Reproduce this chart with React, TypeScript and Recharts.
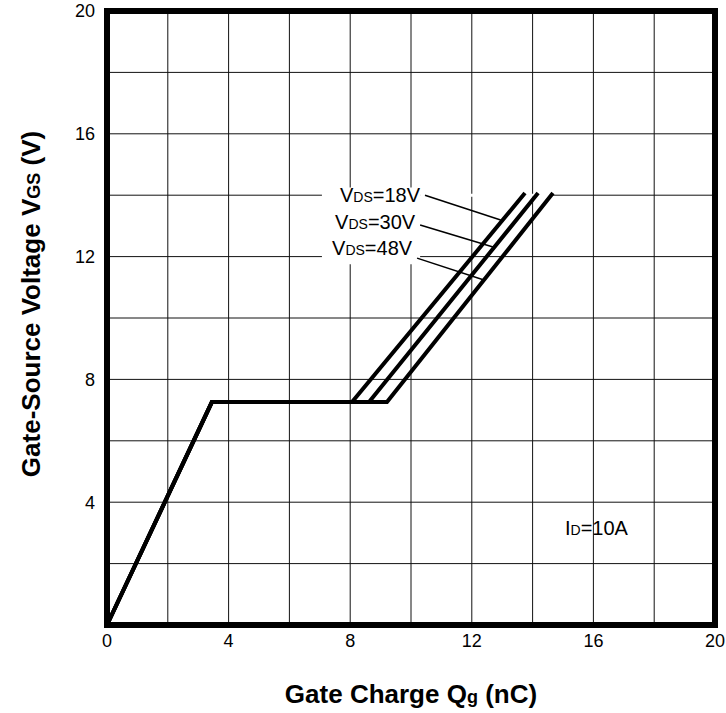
import React from 'react';
import {
  LineChart,
  Line,
  XAxis,
  YAxis,
  CartesianGrid,
  ReferenceArea,
  ReferenceLine,
  ReferenceDot,
  Label,
} from 'recharts';

// gate charge curves, one per drain-source voltage
const QG_18V = [0, 3.45, 8.06, 13.75];
const QG_30V = [0, 3.45, 8.62, 14.18];
const QG_48V = [0, 3.45, 9.21, 14.67];
const VGS_CURVE = [0, 7.26, 7.26, 14.07];

const X_TICKS = [0, 4, 8, 12, 16, 20];
const Y_TICKS = [0, 4, 8, 12, 16, 20];
const GRID_VALUES = [2, 4, 6, 8, 10, 12, 14, 16, 18];

// curve labels and their leader lines
const VDS_LABELS = ['18V', '30V', '48V'];
const LABEL_X = [8.98, 8.82, 8.72];
const LABEL_Y = [14.0, 13.13, 12.28];
const LEADER_FROM = [
  [10.46, 14.0],
  [10.3, 13.03],
  [10.2, 11.95],
];
const LEADER_TO = [
  [12.95, 13.19],
  [12.7, 12.31],
  [12.4, 11.24],
];

const ID_LABEL = { x: 16.1, y: 3.15, text: '10A' };

const FONT = '"Liberation Sans", Arial, Helvetica, sans-serif';

function toPoints(xs: number[], ys: number[]) {
  return xs.map((q, i) => ({ q, v: ys[i] }));
}

const series = [
  { name: '18V', data: toPoints(QG_18V, VGS_CURVE) },
  { name: '30V', data: toPoints(QG_30V, VGS_CURVE) },
  { name: '48V', data: toPoints(QG_48V, VGS_CURVE) },
];

const XTitle = (props: any) => {
  const { viewBox } = props;
  const cx = viewBox.x + viewBox.width / 2;
  return (
    <text
      x={cx}
      y={viewBox.y + 78}
      textAnchor="middle"
      fontFamily={FONT}
      fontWeight="bold"
      fontSize={26}
      fill="#000"
    >
      Gate Charge Q<tspan fontSize={18}>g</tspan> (nC)
    </text>
  );
};

const YTitle = (props: any) => {
  const { viewBox } = props;
  const cy = viewBox.y + viewBox.height / 2 - 14;
  const bx = 40;
  return (
    <text
      x={bx}
      y={cy}
      transform={`rotate(-90, ${bx}, ${cy})`}
      textAnchor="middle"
      fontFamily={FONT}
      fontWeight="bold"
      fontSize={26}
      fill="#000"
    >
      Gate-Source Voltage V<tspan fontSize={18}>GS</tspan> (V)
    </text>
  );
};

export default function App() {
  return (
    <div style={{ position: 'absolute', left: 0, top: 0, background: '#fff' }}>
      <LineChart
        width={726}
        height={713}
        margin={{ top: 11, right: 11, left: 0, bottom: 0 }}
      >
        <CartesianGrid
          stroke="#111"
          strokeWidth={1}
          horizontalValues={GRID_VALUES}
          verticalValues={GRID_VALUES}
        />
        <XAxis
          type="number"
          dataKey="q"
          domain={[0, 20]}
          ticks={X_TICKS}
          height={88}
          axisLine={false}
          tickLine={false}
          tickSize={0}
          tickMargin={9}
          tick={{ fill: '#000', fontSize: 18, fontFamily: FONT }}
        >
          <Label content={XTitle} />
        </XAxis>
        <YAxis
          type="number"
          dataKey="v"
          domain={[0, 20]}
          ticks={Y_TICKS}
          width={107}
          axisLine={false}
          tickLine={false}
          tickSize={0}
          tickMargin={12}
          tick={{ fill: '#000', fontSize: 18, fontFamily: FONT }}
          tickFormatter={(v: number) => (v === 0 ? '' : String(v))}
        >
          <Label content={YTitle} />
        </YAxis>

        {/* blank patch behind the curve labels */}
        <ReferenceArea x1={7.07} x2={10.3} y1={11.75} y2={14.25} fill="white" fillOpacity={1} />
        <ReferenceArea x1={10.3} x2={14.6} y1={13.95} y2={14.05} fill="white" fillOpacity={1} />

        {series.map((s) => (
          <Line
            key={s.name}
            data={s.data}
            dataKey="v"
            type="linear"
            stroke="#000"
            strokeWidth={4}
            dot={false}
            isAnimationActive={false}
          />
        ))}

        {LEADER_FROM.map((from, i) => (
          <ReferenceLine
            key={`leader-${i}`}
            segment={[
              { x: from[0], y: from[1] },
              { x: LEADER_TO[i][0], y: LEADER_TO[i][1] },
            ]}
            stroke="#000"
            strokeWidth={1.5}
          />
        ))}

        {VDS_LABELS.map((lbl, i) => (
          <ReferenceDot
            key={`lbl-${lbl}`}
            x={LABEL_X[i]}
            y={LABEL_Y[i]}
            r={0}
            shape={(p: any) => (
              <text
                x={p.cx}
                y={p.cy}
                dy="0.36em"
                textAnchor="middle"
                fontFamily={FONT}
                fontSize={20}
                fill="#000"
              >
                V<tspan fontSize={14}>DS</tspan>={lbl}
              </text>
            )}
          />
        ))}

        <ReferenceDot
          x={ID_LABEL.x}
          y={ID_LABEL.y}
          r={0}
          shape={(p: any) => (
            <text
              x={p.cx}
              y={p.cy}
              dy="0.36em"
              textAnchor="middle"
              fontFamily={FONT}
              fontSize={20}
              fill="#000"
            >
              I<tspan fontSize={14}>D</tspan>={ID_LABEL.text}
            </text>
          )}
        />

        {/* heavy plot frame */}
        <ReferenceArea x1={0} x2={20} y1={0} y2={20} fill="none" stroke="#000" strokeWidth={6} ifOverflow="visible" />
      </LineChart>
    </div>
  );
}
